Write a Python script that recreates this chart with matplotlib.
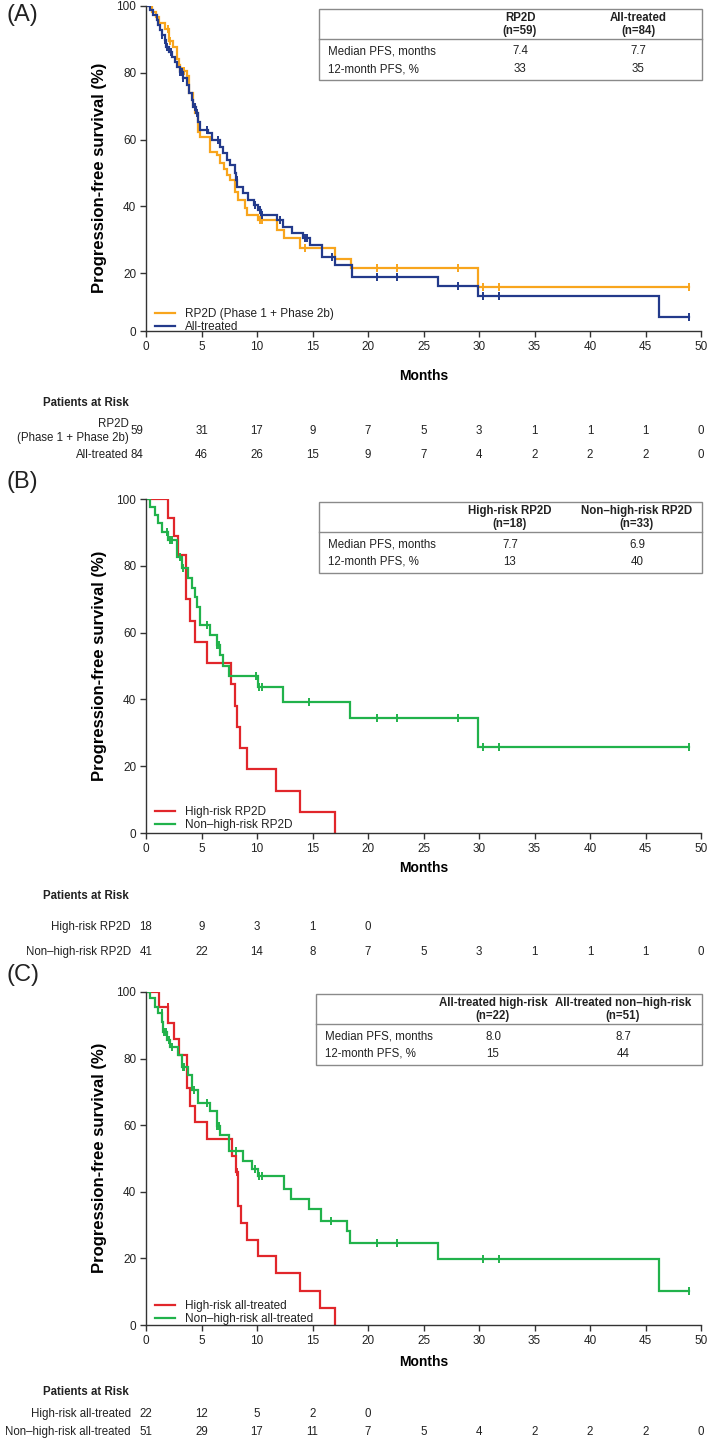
import numpy as np
import matplotlib.pyplot as plt
import matplotlib.transforms as mtransforms
from matplotlib.patches import Rectangle

plt.rcParams['font.family'] = ['Liberation Sans', 'DejaVu Sans']
plt.rcParams['text.color'] = '#222222'

ORANGE = '#f8a51d'
NAVY = '#233a8b'
RED = '#e1262b'
GREEN = '#21b24b'

month_ticks = list(range(0, 51, 5))
pfs_ticks = list(range(0, 101, 20))

# ---- (A) RP2D vs all-treated ----
rp2d_t = [0.5, 0.9, 1.2, 1.7, 2.1, 2.45, 2.8, 3.0, 3.1, 3.7, 3.9, 4.2, 4.4, 4.7, 4.9, 5.8, 6.4, 6.7,
          7.0, 7.3, 7.6, 8.0, 8.3, 8.9, 9.1, 10.1, 11.8, 12.4, 13.9, 17.0, 18.5, 29.9]
rp2d_s = [98.3, 96.6, 94.9, 93.2, 89.5, 87.8, 84.0, 82.3, 80.6, 78.9, 73.9, 70.5, 67.9, 62.4, 60.9, 56.4,
          55.4, 52.9, 51.2, 49.5, 47.9, 44.4, 41.9, 39.4, 37.4, 35.9, 32.9, 30.4, 27.4, 24.4, 21.5, 16.0]
rp2d_cens = [2.0, 2.16, 3.21, 3.42, 10.27, 10.42, 14.3, 20.8, 22.6, 28.1, 30.4, 31.8, 48.9]

allt_t = [0.36, 0.66, 0.96, 1.11, 1.26, 1.41, 1.71, 1.80, 2.10, 2.31, 2.61, 2.82, 3.06, 3.36, 3.66, 3.90,
          4.11, 4.26, 4.50, 4.71, 4.86, 5.62, 5.92, 6.67, 6.97, 7.27, 7.57, 8.02, 8.1, 8.2, 8.77, 9.22,
          9.70, 10.12, 10.35, 11.77, 12.37, 13.12, 14.17, 14.77, 15.83, 17.03, 18.53, 26.3, 29.9, 46.2]
allt_s = [98.8, 97.3, 95.8, 94.3, 92.8, 91.3, 89.8, 87.8, 86.3, 84.8, 83.3, 81.8, 80.3, 78.3, 76.3, 73.9,
          71.9, 69.9, 67.9, 65.4, 62.9, 61.9, 59.9, 57.9, 55.9, 53.9, 52.4, 49.9, 47.9, 45.9, 43.9, 41.9,
          40.4, 38.9, 37.4, 35.9, 33.9, 31.9, 30.4, 28.4, 25.0, 22.5, 19.0, 16.3, 13.2, 7.0]
allt_cens = [0, 1.41, 1.71, 1.86, 2.22, 3.06, 3.21, 3.36, 4.41, 4.56, 5.47, 6.52, 8.17, 9.82, 10.27,
             10.42, 12.07, 14.32, 14.47, 16.73, 20.84, 22.58, 28.14, 30.39, 31.83, 48.9]

# ---- (B) high-risk vs non-high-risk RP2D ----
hr_rp2d_t = [2.0, 2.5, 2.9, 3.6, 4.0, 4.4, 5.5, 7.7, 8.0, 8.2, 8.5, 9.1, 11.7, 13.9, 17.0]
hr_rp2d_s = [94.4, 88.9, 83.3, 70.0, 63.5, 57.1, 50.8, 44.5, 38.1, 31.8, 25.4, 19.1, 12.7, 6.4, 0.0]
hr_rp2d_cens = []

nhr_rp2d_t = [0.36, 0.81, 1.11, 1.41, 1.95, 2.76, 3.21, 3.81, 4.11, 4.41, 4.62, 4.86, 5.77, 6.37, 6.67,
              6.97, 7.51, 10.05, 12.3, 18.4, 29.9]
nhr_rp2d_s = [97.7, 95.2, 92.7, 90.2, 87.7, 82.7, 79.2, 76.3, 73.3, 70.8, 67.8, 62.3, 59.3, 56.3, 53.3,
              49.9, 47.0, 43.6, 39.3, 34.5, 25.8]
nhr_rp2d_cens = [0, 1.86, 2.16, 2.31, 3.06, 3.36, 5.47, 6.43, 6.61, 9.9, 10.18, 10.42, 14.7, 20.8, 22.6,
                 28.1, 30.4, 31.8, 48.9]

# ---- (C) high-risk vs non-high-risk all-treated ----
hr_allt_t = [1.17, 2.0, 2.52, 2.97, 3.66, 3.96, 4.41, 5.47, 7.72, 8.1, 8.26, 8.53, 9.07, 10.1, 11.7,
             13.9, 15.7, 17.0]
hr_allt_s = [95.4, 90.6, 86.0, 81.2, 71.2, 65.7, 61.0, 55.9, 50.7, 46.0, 35.7, 30.7, 25.4, 20.7, 15.7,
             10.2, 5.0, 0.0]
hr_allt_cens = [0, 1.95, 8.17]

nhr_allt_t = [0.36, 0.81, 1.11, 1.41, 1.56, 1.86, 2.16, 2.91, 3.21, 3.81, 4.11, 4.71, 5.77, 6.37, 6.67,
              7.51, 8.77, 9.52, 10.1, 12.4, 13.1, 14.7, 15.8, 18.1, 18.4, 26.3, 46.2]
nhr_allt_s = [98.1, 95.6, 93.6, 91.1, 88.1, 85.6, 83.6, 81.1, 77.6, 75.1, 70.7, 66.7, 64.2, 59.7, 57.2,
              52.2, 49.2, 46.7, 44.7, 40.7, 37.7, 34.7, 31.2, 28.2, 24.5, 19.8, 10.1]
nhr_allt_cens = [1.4, 1.65, 1.8, 2.1, 2.3, 3.3, 3.45, 4.3, 5.47, 6.43, 6.61, 8.1, 9.8, 10.18, 10.42,
                 16.7, 20.8, 22.6, 30.4, 31.8, 48.9]

# summary tables
a_heads = ['RP2D\n(n=59)', 'All-treated\n(n=84)']
a_median = [7.4, 7.7]
a_pfs12 = [33, 35]
b_heads = ['High-risk RP2D\n(n=18)', 'Non\u2013high-risk RP2D\n(n=33)']
b_median = [7.7, 6.9]
b_pfs12 = [13, 40]
c_heads = ['All-treated high-risk\n(n=22)', 'All-treated non\u2013high-risk\n(n=51)']
c_median = [8.0, 8.7]
c_pfs12 = [15, 44]

# patients at risk
a_names = ['RP2D\n(Phase 1 + Phase 2b)', 'All-treated']
a_risk = [[59, 31, 17, 9, 7, 5, 3, 1, 1, 1, 0], [84, 46, 26, 15, 9, 7, 4, 2, 2, 2, 0]]
b_names = ['High-risk RP2D', 'Non\u2013high-risk RP2D']
b_risk = [[18, 9, 3, 1, 0], [41, 22, 14, 8, 7, 5, 3, 1, 1, 1, 0]]
c_names = ['High-risk all-treated', 'Non\u2013high-risk all-treated']
c_risk = [[22, 12, 5, 2, 0], [51, 29, 17, 11, 7, 5, 4, 2, 2, 2, 0]]

a_legend = ['RP2D (Phase 1 + Phase 2b)', 'All-treated']
b_legend = ['High-risk RP2D', 'Non\u2013high-risk RP2D']
c_legend = ['High-risk all-treated', 'Non\u2013high-risk all-treated']

W, H = 709, 1439
FS = 8.3


def fy(px):
    return 1 - px / H


def km(ax, t, s, cens, color, label):
    t = np.asarray(t, float)
    s = np.asarray(s, float)
    end = max(t.max(), max(cens) if cens else 0)
    xs = np.concatenate([[0], t, [end]])
    ys = np.concatenate([[100], s, [s[-1]]])
    ax.step(xs, ys, where='post', color=color, lw=1.6, label=label, solid_joinstyle='miter')
    if cens:
        c = np.asarray(cens, float)
        sv = np.concatenate([[100], s])[np.searchsorted(t, c, side='right')]
        ax.plot(c, sv, ls='none', marker='|', ms=6, mew=1.4, color=color)


def pfs_table(fig, x0, x1, top, sep, bot, xcols, heads, med, p12):
    gray = '#8a8a8a'
    fig.add_artist(Rectangle((x0 / W, fy(bot)), (x1 - x0) / W, (bot - top) / H,
                             transform=fig.transFigure, fill=False, ec=gray, lw=1.0))
    fig.add_artist(plt.Line2D([x0 / W, x1 / W], [fy(sep), fy(sep)], transform=fig.transFigure,
                              color=gray, lw=1.0))
    r1, r2 = sep + 12.5, sep + 30
    fig.text((x0 + 9) / W, fy(r1), 'Median PFS, months', fontsize=FS, va='center')
    fig.text((x0 + 9) / W, fy(r2), '12-month PFS, %', fontsize=FS, va='center')
    for xc, h, m, p in zip(xcols, heads, med, p12):
        fig.text(xc / W, fy((top + sep) / 2 + 0.5), h, fontsize=FS, fontweight='bold',
                 ha='center', va='center', linespacing=1.2)
        fig.text(xc / W, fy(r1), f'{m:.1f}', fontsize=FS, ha='center', va='center')
        fig.text(xc / W, fy(r2), f'{p}', fontsize=FS, ha='center', va='center')


def at_risk(fig, ax, names, rows, ys, first_x=0.0, name_x=-1.35):
    tr = mtransforms.blended_transform_factory(ax.transData, fig.transFigure)
    ax.text(-1.53, fy(ys[0]), 'Patients at Risk', transform=tr, fontsize=FS, fontweight='bold',
            ha='right', va='center')
    for ypx, name, row in zip(ys[1:], names, rows):
        ax.text(name_x, fy(ypx), name, transform=tr, fontsize=FS, ha='right', va='center',
                multialignment='right', linespacing=1.15)
        for i, n in enumerate(row):
            x = month_ticks[i] if i > 0 else first_x
            ax.text(x, fy(ypx), str(n), transform=tr, fontsize=FS, ha='center', va='center')


fig = plt.figure(figsize=(W / 100, H / 100), dpi=100)
# (top px, bottom px, y-min value shown at the x-axis)
frames = [(6, 331, 2.7), (499, 833, 0), (992, 1325, 0)]
months_y = [376, 868, 1362]
legend_bottom = [335, 833, 1327]
ylab_c = [178, 666, 1158]
panel_y = [15, 482, 975]
panels = []
for top, bot, ymin in frames:
    ax = fig.add_axes([146 / W, fy(bot), 555 / W, (bot - top) / H])
    ax.set_xlim(0, 50)
    ax.set_ylim(ymin, 100)
    ax.set_yticks([ymin] + pfs_ticks[1:], [str(v) for v in pfs_ticks])
    panels.append(ax)

axA, axB, axC = panels
km(axA, rp2d_t, rp2d_s, rp2d_cens, ORANGE, a_legend[0])
km(axA, allt_t, allt_s, allt_cens, NAVY, a_legend[1])
km(axB, hr_rp2d_t, hr_rp2d_s, hr_rp2d_cens, RED, b_legend[0])
km(axB, nhr_rp2d_t, nhr_rp2d_s, nhr_rp2d_cens, GREEN, b_legend[1])
km(axC, hr_allt_t, hr_allt_s, hr_allt_cens, RED, c_legend[0])
km(axC, nhr_allt_t, nhr_allt_s, nhr_allt_cens, GREEN, c_legend[1])

pfs_table(fig, 319, 702, 9, 39, 80, [520, 638], a_heads, a_median, a_pfs12)
pfs_table(fig, 319, 702, 502, 532, 573, [510, 637], b_heads, b_median, b_pfs12)
pfs_table(fig, 316, 702, 994, 1024, 1065, [493, 623], c_heads, c_median, c_pfs12)

at_risk(fig, axA, a_names, a_risk, [403, 431, 455], first_x=-0.8, name_x=-1.55)
at_risk(fig, axB, b_names, b_risk, [896, 927, 952])
at_risk(fig, axC, c_names, c_risk, [1392, 1414, 1432])

for i, ax in enumerate(panels):
    top, bot, ymin = frames[i]
    ax.set_xticks(month_ticks)
    for sp in ['top', 'right']:
        ax.spines[sp].set_visible(False)
    for sp in ['left', 'bottom']:
        ax.spines[sp].set_color('#333333')
        ax.spines[sp].set_linewidth(1.0)
    ax.tick_params(direction='out', length=4, width=1, colors='#333333', labelsize=8.5, pad=3,
                   labelcolor='#222222')
    ax.set_xlabel('Months', fontsize=10, fontweight='bold')
    ax.xaxis.set_label_coords(0.5, (bot - months_y[i]) / (bot - top))
    ax.xaxis.label.set_va('center')
    ax.set_ylabel('Progression-free survival (%)', fontsize=12, fontweight='bold')
    ax.yaxis.set_label_coords(-0.07, (bot - ylab_c[i]) / (bot - top))
    ax.legend(loc='lower left', bbox_to_anchor=(153 / W, fy(legend_bottom[i])),
              bbox_transform=fig.transFigure, frameon=False, fontsize=8.5,
              handlelength=1.7, handletextpad=0.9, labelspacing=0.12, borderaxespad=0,
              borderpad=0.15)
    fig.text(0.009, fy(panel_y[i]), '(' + 'ABC'[i] + ')', fontsize=17, va='center', ha='left')

fig.savefig('out.png', dpi=100)
